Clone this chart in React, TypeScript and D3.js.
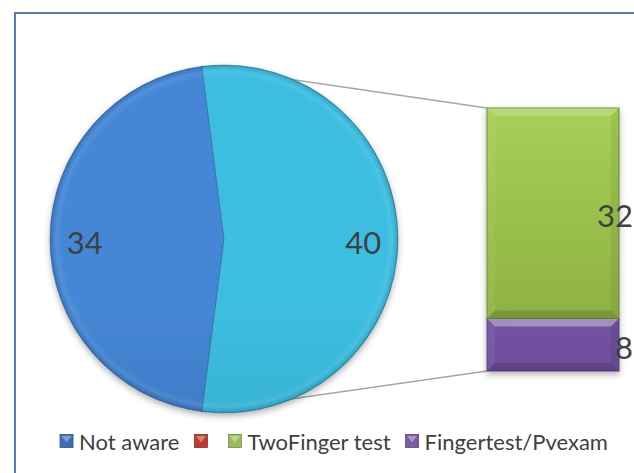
import React, { useEffect, useRef } from "react";
import * as d3 from "d3";

// legend entries (Excel lists every data point, one of them has no name)
const legendNames = ["Not aware", "", "TwoFinger test", "Fingertest/Pvexam"];
const legendColors = ["#3a6fb6", "#c0392f", "#9bbb59", "#7b5ba6"];

// pie: "Not aware" and the combined "other" slice
const pieNames = ["Not aware", "Other"];
const pieValues = [34, 40];

// bar of the split-out slice, bottom to top
const barNames = ["Fingertest/Pvexam", "TwoFinger test"];
const barValues = [8, 32];

const W = 634;
const H = 473;
const FONT = "Lato, 'Open Sans', sans-serif";

const PieOfBar = () => {
  const ref = useRef<SVGSVGElement>(null);

  useEffect(() => {
    const svg = d3.select(ref.current);
    svg.selectAll("*").remove();
    const defs = svg.append("defs");

    const cx = 224, cy = 239, r = 174;
    const bar = { left: 487, right: 619, top: 108, bottom: 371 };

    // gradients
    const lin = (id: string, top: string, bottom: string, y1: number, y2: number) => {
      const g = defs.append("linearGradient").attr("id", id)
        .attr("gradientUnits", "userSpaceOnUse")
        .attr("x1", 0).attr("x2", 0).attr("y1", y1).attr("y2", y2);
      g.append("stop").attr("offset", 0).attr("stop-color", top);
      g.append("stop").attr("offset", 1).attr("stop-color", bottom);
    };
    lin("g-blue", "#4587d6", "#3465a6", cy - r, cy + r);
    lin("g-cyan", "#3dbee1", "#2d9ab9", cy - r, cy + r);
    lin("g-green", "#a6d055", "#88aa3e", bar.top, bar.bottom);
    lin("g-purple", "#8565b2", "#6e4e9c", bar.top, bar.bottom);

    const rim = defs.append("radialGradient").attr("id", "g-rim")
      .attr("gradientUnits", "userSpaceOnUse")
      .attr("cx", cx).attr("cy", cy).attr("r", r);
    rim.append("stop").attr("offset", 0.93).attr("stop-color", "#fff").attr("stop-opacity", 0);
    rim.append("stop").attr("offset", 0.965).attr("stop-color", "#fff").attr("stop-opacity", 0.08);
    rim.append("stop").attr("offset", 0.985).attr("stop-color", "#000").attr("stop-opacity", 0.05);
    rim.append("stop").attr("offset", 1).attr("stop-color", "#000").attr("stop-opacity", 0.2);

    const shadow = defs.append("filter").attr("id", "shadow")
      .attr("x", "-20%").attr("y", "-20%").attr("width", "140%").attr("height", "140%");
    shadow.append("feDropShadow").attr("dx", 0).attr("dy", 3)
      .attr("stdDeviation", 3).attr("flood-color", "#000").attr("flood-opacity", 0.3);

    // chart frame
    svg.append("rect").attr("width", W).attr("height", H).attr("fill", "#fff");
    svg.append("rect")
      .attr("x", 15).attr("y", 13).attr("width", 700).attr("height", 520)
      .attr("fill", "#fff").attr("stroke", "#4a7ebb").attr("stroke-width", 2);

    // pie layout: the "other" slice is centred at 3 o'clock
    const total = d3.sum(pieValues);
    const start = Math.PI / 2 - (2 * Math.PI * pieValues[0]) / total - (Math.PI * pieValues[1]) / total;
    const pie = d3.pie<number>().sort(null).value((d) => d)
      .startAngle(start).endAngle(start + 2 * Math.PI);
    const arcs = pie(pieValues);
    const arc = d3.arc<d3.PieArcDatum<number>>().innerRadius(0).outerRadius(r);
    const labelArc = d3.arc<d3.PieArcDatum<number>>().innerRadius(r * 0.8).outerRadius(r * 0.8);

    const y = d3.scaleLinear().domain([0, d3.sum(barValues)]).range([bar.bottom, bar.top]);

    // connector lines from the split slice to the bar
    const pt = (a: number) => [cx + r * Math.sin(a), cy - r * Math.cos(a)];
    const other = arcs[1];
    const p1 = pt(other.startAngle);
    const p2 = pt(other.endAngle);
    svg.append("line").attr("x1", p1[0]).attr("y1", p1[1]).attr("x2", bar.left).attr("y2", y(d3.sum(barValues)))
      .attr("stroke", "#a6a6a6").attr("stroke-width", 1.5);
    svg.append("line").attr("x1", p2[0]).attr("y1", p2[1]).attr("x2", bar.left).attr("y2", y(0))
      .attr("stroke", "#a6a6a6").attr("stroke-width", 1.5);

    // pie
    const pg = svg.append("g").attr("transform", `translate(${cx},${cy})`).attr("filter", "url(#shadow)");
    pg.selectAll("path.slice").data(arcs).join("path")
      .attr("class", "slice")
      .attr("d", arc)
      .attr("fill", (_d, i) => (i === 0 ? "url(#g-blue)" : "url(#g-cyan)"))
      .attr("stroke", "#2b5f86").attr("stroke-opacity", 0.5).attr("stroke-width", 1);
    pg.append("circle").attr("r", r).attr("fill", "url(#g-rim)")
      .attr("transform", `translate(${-cx},${-cy})`)
      .attr("cx", cx).attr("cy", cy);

    // pie labels
    svg.append("g").selectAll("text").data(arcs).join("text")
      .attr("x", (d) => cx + labelArc.centroid(d)[0])
      .attr("y", (d) => cy + labelArc.centroid(d)[1] + 3)
      .attr("text-anchor", "middle").attr("dominant-baseline", "central")
      .attr("font-family", FONT).attr("font-size", 31).attr("fill", "#404040")
      .text((d) => String(d.data));

    // stacked bar
    const stacked = barValues.map((v, i) => ({
      name: barNames[i], value: v,
      y0: d3.sum(barValues.slice(0, i)), y1: d3.sum(barValues.slice(0, i + 1)),
    }));
    const bg = svg.append("g").attr("filter", "url(#shadow)");
    const bev = 8;
    stacked.forEach((s, i) => {
      const x0 = bar.left, x1 = bar.right, t = y(s.y1), b = y(s.y0);
      const g = bg.append("g");
      g.append("rect").attr("x", x0).attr("y", t).attr("width", x1 - x0).attr("height", b - t)
        .attr("fill", i === 0 ? "url(#g-purple)" : "url(#g-green)")
        .attr("stroke", i === 0 ? "#5a3f82" : "#6f8c32").attr("stroke-width", 1);
      const poly = (pts: number[][], fill: string, op: number) =>
        g.append("polygon").attr("points", pts.map((p) => p.join(",")).join(" "))
          .attr("fill", fill).attr("fill-opacity", op);
      poly([[x0, t], [x1, t], [x1 - bev, t + bev], [x0 + bev, t + bev]], "#fff", i === 0 ? 0.35 : 0.2);
      poly([[x0, t], [x0 + bev, t + bev], [x0 + bev, b - bev], [x0, b]], "#fff", 0.06);
      poly([[x1, t], [x1, b], [x1 - bev, b - bev], [x1 - bev, t + bev]], "#000", 0.06);
      poly([[x0, b], [x0 + bev, b - bev], [x1 - bev, b - bev], [x1, b]], "#000", 0.15);
    });

    // bar labels
    svg.append("g").selectAll("text").data(stacked).join("text")
      .attr("x", W - 1)
      .attr("y", (d) => (y(d.y0) + y(d.y1)) / 2 + 2)
      .attr("text-anchor", "end").attr("dominant-baseline", "central")
      .attr("font-family", FONT).attr("font-size", 31).attr("fill", "#404040")
      .text((d) => String(d.value));

    // legend
    const lg = svg.append("g");
    const ly = 441, box = 13, gap = 6, after = 15;
    let lx = 0;
    legendNames.forEach((name, i) => {
      const item = lg.append("g").attr("transform", `translate(${lx},0)`);
      const top = ly - box / 2;
      item.append("rect").attr("x", 0).attr("y", top).attr("width", box).attr("height", box)
        .attr("fill", legendColors[i]).attr("stroke", d3.color(legendColors[i])!.darker(0.8).toString())
        .attr("stroke-width", 0.8);
      item.append("polygon")
        .attr("points", `1.5,${top + 1.5} ${box - 1.5},${top + 1.5} ${box / 2},${top + box * 0.62}`)
        .attr("fill", "#fff").attr("fill-opacity", 0.35);
      const t = item.append("text").attr("x", box + gap).attr("y", ly)
        .attr("dominant-baseline", "central")
        .attr("font-family", FONT).attr("font-size", 22).attr("fill", "#404040")
        .text(name);
      const w = (t.node() as SVGTextElement).getComputedTextLength();
      lx += box + gap + w + after;
    });
    const lw = lx - after;
    lg.attr("transform", `translate(${334 - lw / 2},0)`);
  }, []);

  return (
    <svg ref={ref} width={W} height={H}
      style={{ position: "absolute", left: 0, top: 0, display: "block" }} />
  );
};

export default function App() {
  return <PieOfBar />;
}
